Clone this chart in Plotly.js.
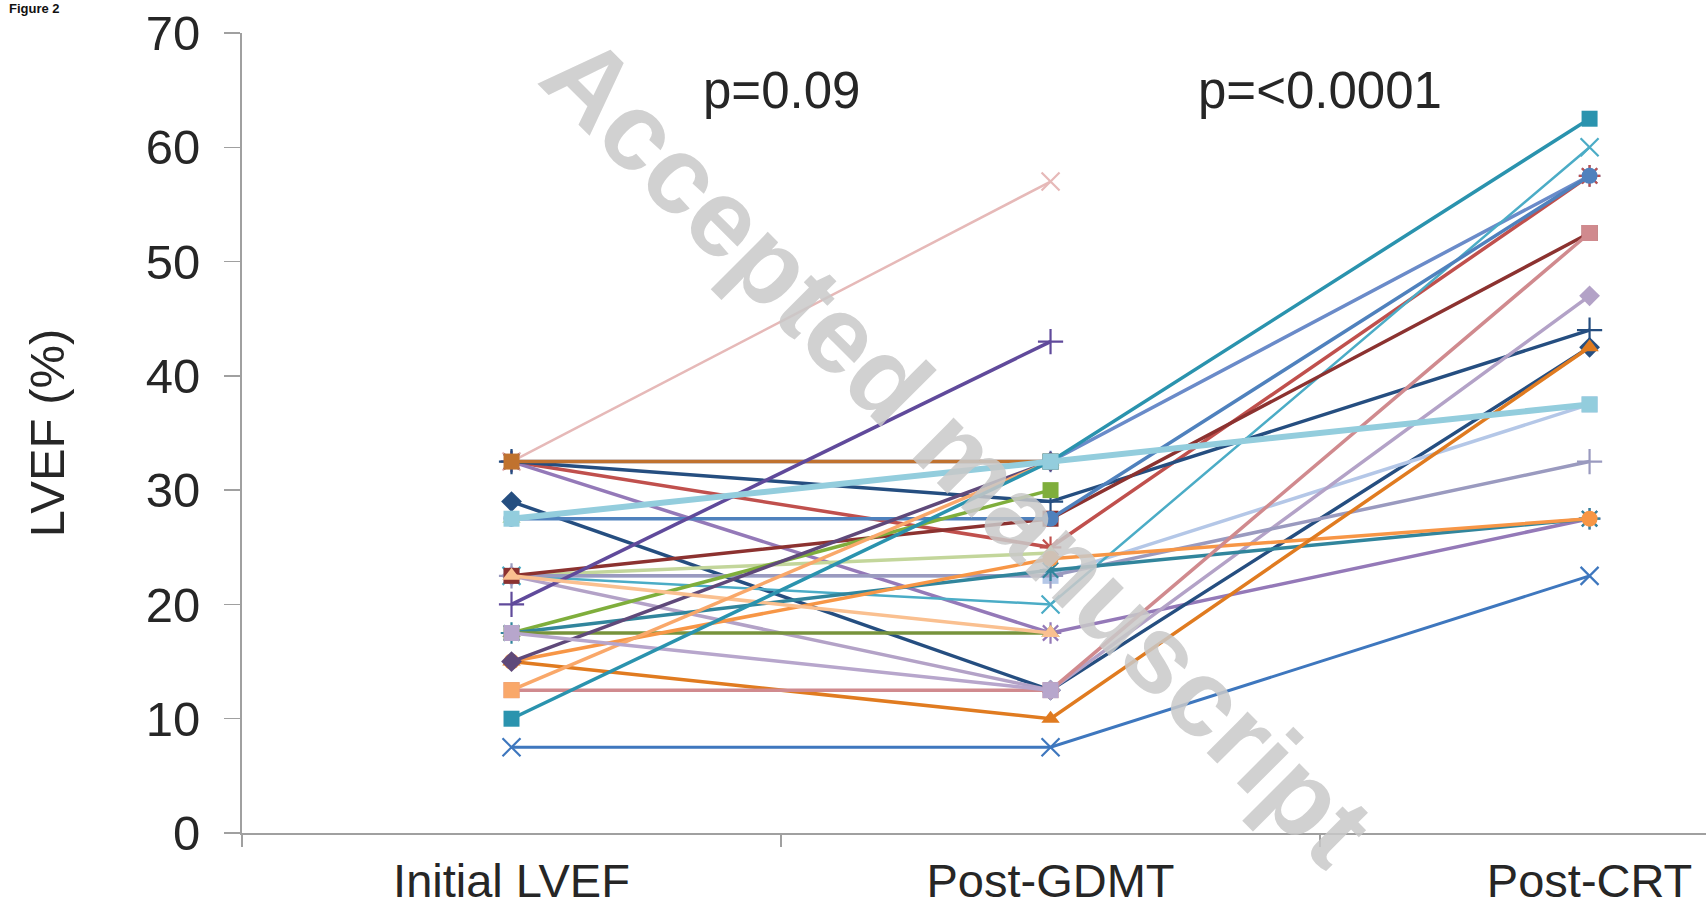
<!DOCTYPE html>
<html>
<head>
<meta charset="utf-8">
<script src="https://cdn.plot.ly/plotly-3.0.1.min.js"></script>
<style>
  html, body { margin: 0; padding: 0; background: #ffffff; overflow: hidden; }
  #chart { width: 1706px; height: 912px; }
</style>
</head>
<body>
<div id="chart"></div>
<script>
// ---- Data (LVEF %, per patient: Initial, Post-GDMT, Post-CRT) ----
const categories = ['Initial LVEF', 'Post-GDMT', 'Post-CRT'];
const yTicks = [0, 10, 20, 30, 40, 50, 60, 70];
const pValueLabels = ['p=0.09', 'p=<0.0001'];

const pt01 = [32.5, 57, null];
const pt02 = [32.5, 32.5, null];
const pt03 = [32.5, 29, 44];
const pt04 = [32.5, 25, 57.5];
const pt05 = [32.5, 17.5, 27.5];
const pt06 = [29, 12.5, 42.5];
const pt07 = [27.5, 32.5, 37.5];
const pt08 = [27.5, 27.5, 57.5];
const pt09 = [27.5, 32.5, null];
const pt10 = [22.5, 27.5, 52.5];
const pt11 = [22.5, 24.5, null];
const pt12 = [22.5, 22.5, 37.5];
const pt13 = [22.5, 17.5, null];
const pt14 = [22.5, 12.5, 47];
const pt15 = [22.5, 20, 60];
const pt16 = [20, 43, null];
const pt17 = [17.5, 30, null];
const pt18 = [17.5, 23, 27.5];
const pt19 = [17.5, 17.5, null];
const pt20 = [17.5, 12.5, null];
const pt21 = [15, 32.5, null];
const pt22 = [15, 24, 27.5];
const pt23 = [15, 10, 42.5];
const pt24 = [12.5, 32.5, null];
const pt25 = [12.5, 12.5, 52.5];
const pt26 = [10, 32.5, 62.5];
const pt27 = [7.5, 7.5, 22.5];
const pt28 = [22.5, 22.5, 32.5];
const pt29 = [32.5, 32.5, 57.5];

// ---- Styles, in drawing order (later = on top) ----
const series = [
  {v: pt29, c: '#6A8BC9', s: 'asterisk-open',   w: 3.5},
  {v: pt01, c: '#E6B9B8', s: 'x-thin-open',     w: 2.5},
  {v: pt04, c: '#C0504D', s: 'asterisk-open',   w: 3.5},
  {v: pt05, c: '#9479B8', s: 'asterisk-open',   w: 3.5},
  {v: pt03, c: '#254E80', s: 'cross-thin-open', w: 3.5},
  {v: pt02, c: '#C0722F', s: 'square',          w: 3.5},
  {v: pt09, c: '#AFCF8E', s: 'triangle-up',     w: 3.5},
  {v: pt06, c: '#254E80', s: 'diamond',         w: 3.5},
  {v: pt11, c: '#C3D69B', s: 'triangle-up',     w: 3.5},
  {v: pt12, c: '#B4C7E7', s: 'square',          w: 3.5},
  {v: pt14, c: '#B3A2C7', s: 'diamond',         w: 3.5},
  {v: pt15, c: '#4BACC6', s: 'x-thin-open',     w: 2.5},
  {v: pt28, c: '#9A9ABF', s: 'cross-thin-open', w: 3.5},
  {v: pt10, c: '#8C3230', s: 'square',          w: 3.5},
  {v: pt08, c: '#4F81BD', s: 'circle',          w: 3.5},
  {v: pt16, c: '#604A9B', s: 'cross-thin-open', w: 3.5},
  {v: pt17, c: '#7FAE3C', s: 'square',          w: 3.5},
  {v: pt18, c: '#31859C', s: 'asterisk-open',   w: 3.5},
  {v: pt19, c: '#77933C', s: 'triangle-up',     w: 3.5},
  {v: pt22, c: '#F79646', s: 'circle',          w: 3.5},
  {v: pt23, c: '#E07B20', s: 'triangle-up',     w: 3.5},
  {v: pt21, c: '#5F497A', s: 'diamond',         w: 3.5},
  {v: pt13, c: '#FAC090', s: 'triangle-up',     w: 3.5},
  {v: pt25, c: '#D08A8E', s: 'square',          w: 3.5},
  {v: pt24, c: '#F9A86A', s: 'square',          w: 3.5},
  {v: pt20, c: '#B7A6CC', s: 'square',          w: 3.5},
  {v: pt26, c: '#2A93AE', s: 'square',          w: 3.5},
  {v: pt07, c: '#93CDDD', s: 'square',          w: 6},
  {v: pt27, c: '#3E77BE', s: 'x-thin-open',     w: 3}
];

const FONT = 'Liberation Sans, Arial, Helvetica, sans-serif';

const traces = series.map((st, i) => {
  const open = st.s.indexOf('open') >= 0;
  return {
    type: 'scatter',
    mode: 'lines+markers',
    x: categories,
    y: st.v,
    name: 'Patient ' + (i + 1),
    line: {color: st.c, width: st.w},
    marker: {
      symbol: st.s,
      size: open ? 18 : 16,
      color: st.c,
      line: {color: st.c, width: open ? 2.2 : 0}
    },
    showlegend: false,
    hoverinfo: 'y'
  };
});

const layout = {
  width: 1706,
  height: 912,
  paper_bgcolor: '#ffffff',
  plot_bgcolor: '#ffffff',
  margin: {l: 242, r: 0, t: 33, b: 79},
  showlegend: false,
  font: {family: FONT, color: '#262626'},
  xaxis: {
    type: 'category',
    range: [-0.5, 2.216],
    tickson: 'boundaries',
    ticks: 'outside',
    ticklen: 12,
    tickwidth: 1.5,
    tickcolor: '#a0a0a0',
    showline: true,
    linecolor: '#a0a0a0',
    linewidth: 2,
    showgrid: false,
    zeroline: false,
    tickfont: {family: FONT, size: 47, color: '#262626'},
    ticklabelstandoff: 6,
    fixedrange: true
  },
  yaxis: {
    range: [0, 70],
    tickvals: yTicks,
    ticktext: yTicks.map(String),
    ticks: 'outside',
    ticklen: 16,
    tickwidth: 1.5,
    tickcolor: '#a0a0a0',
    showline: true,
    linecolor: '#a0a0a0',
    linewidth: 2,
    showgrid: false,
    zeroline: false,
    tickfont: {family: FONT, size: 49, color: '#262626'},
    ticklabelstandoff: 14,
    title: {text: 'LVEF (%)', font: {family: FONT, size: 49, color: '#262626'}, standoff: 66},
    fixedrange: true
  },
  annotations: [
    {
      text: 'Accepted manuscript',
      xref: 'x', yref: 'y', x: 0.83, y: 33.5,
      showarrow: false,
      textangle: 45,
      font: {family: FONT, size: 110, color: '#c9c9c9', weight: 700},
      opacity: 0.85
    },
    {
      text: pValueLabels[0],
      xref: 'x', yref: 'y', x: 0.5, y: 65,
      showarrow: false,
      font: {family: FONT, size: 51, color: '#262626'}
    },
    {
      text: pValueLabels[1],
      xref: 'x', yref: 'y', x: 1.5, y: 65,
      showarrow: false,
      font: {family: FONT, size: 51, color: '#262626'}
    },
    {
      text: '<b>Figure 2</b>',
      xref: 'paper', yref: 'paper', x: -0.1229, y: 1.031,
      xanchor: 'right', yanchor: 'middle',
      showarrow: false,
      font: {family: FONT, size: 13, color: '#111111'}
    }
  ]
};

Plotly.newPlot('chart', traces, layout, {displayModeBar: false, staticPlot: true});
</script>
</body>
</html>
